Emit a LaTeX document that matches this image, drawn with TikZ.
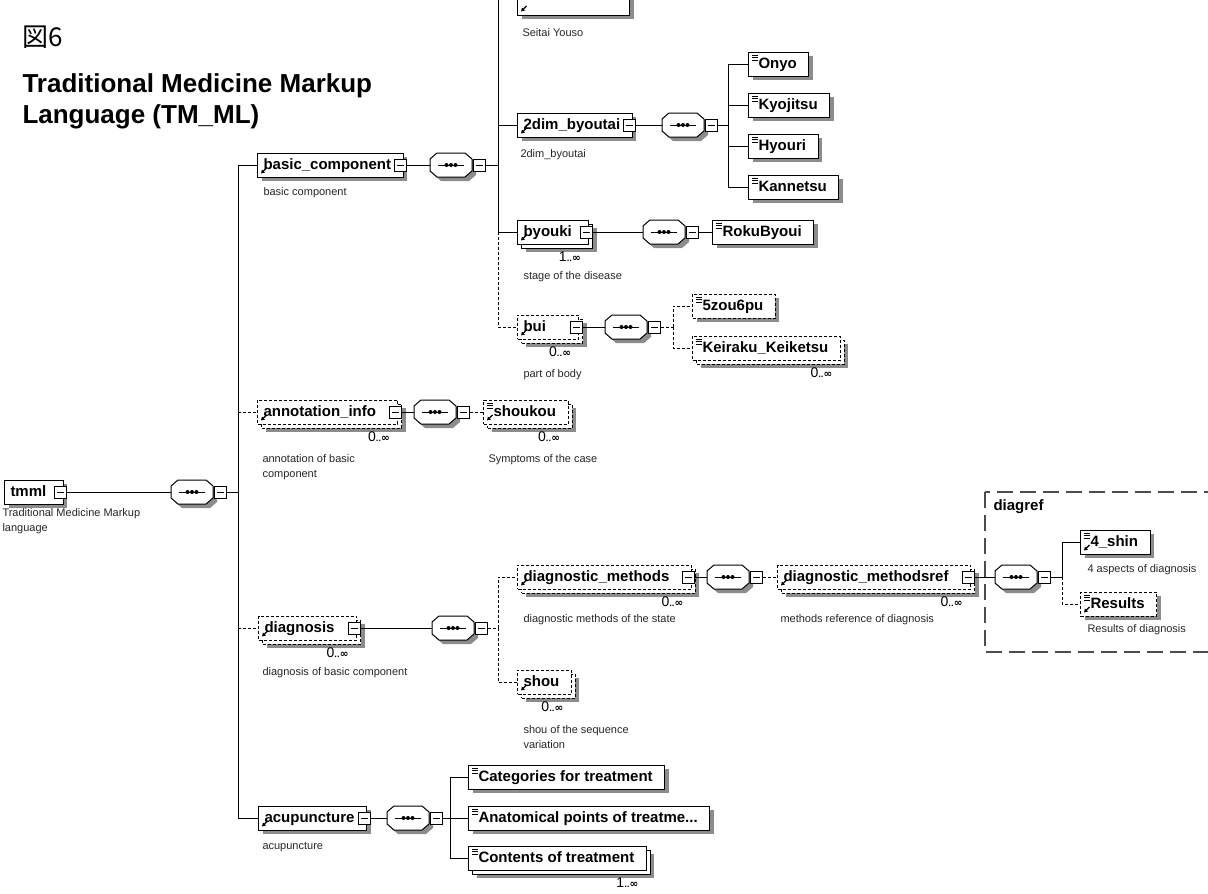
\documentclass[tikz,border=0pt]{standalone}
\usepackage{fontspec}
\setmainfont{Liberation Sans}
\newfontfamily\cjkfont{Noto Sans CJK JP}
\newfontfamily\dvfont{DejaVu Sans}
\usetikzlibrary{shadows,arrows.meta}

\newcommand\elfont{\bfseries\fontsize{15}{17}\selectfont}
\newcommand\dsfont{\fontsize{11}{14.5}\selectfont}
\newcommand\mlt[1]{{\fontsize{14}{14}\selectfont #1}{\dvfont\bfseries\fontsize{7}{7}\selectfont ..}{\dvfont\bfseries\fontsize{10.5}{10}\selectfont ∞}}
\newcommand\txtmark{\foreach \k in {3,5.5,8}{\draw[solid,line width=0.9pt] ([shift={(3,\k)}]path picture bounding box.north west) -- ++(6,0);}}
\newcommand\refmark{\draw[solid,line width=1.2pt,-{Triangle[length=3.5pt,width=4pt]}] ([shift={(9,-9)}]path picture bounding box.south west) -- ++(-5.5,5.5);}
\newcommand\seqpath{(-21,-6) -- (-14,-12) -- (14,-12) -- (21,-6) -- (21,6) -- (14,12) -- (-14,12) -- (-21,6) -- cycle}
\newcommand\seqat[2]{%
  \node[cmpn] (#1) at (#2) {};
  \begin{scope}[shift={(#1.center)}]
    \fill[black!45,shift={(4,4)}] \seqpath;
    \filldraw[fill=white] \seqpath;
    \draw (-13,0) -- (13,0);
    \foreach \d in {-4.5,0,4.5}{\fill (\d,0) circle (2);}
  \end{scope}
  \node[mn] (#1m) at ([xshift=7pt]#1.east) {};}

\tikzset{
  el/.style={draw,fill=white,font=\elfont,anchor=west,minimum height=24pt,inner xsep=6pt,inner ysep=0pt,
    text height=11pt,text depth=3pt,execute at end node={\hspace*{6pt}},
    drop shadow={shadow xshift=4pt,shadow yshift=-4pt,opacity=1,fill=black!45}},
  opt/.style={dash pattern=on 3pt off 2pt},
  many/.style={drop shadow={shadow xshift=8pt,shadow yshift=-8pt,opacity=1,fill=black!45},
    copy shadow={shadow xshift=4pt,shadow yshift=-4pt,opacity=1,fill=white,draw=black}},
  padr/.style={execute at end node={\hspace*{#1}}},
  txt/.style={execute at begin node={\hspace*{4pt}},path picture={\txtmark}},
  refi/.style={path picture={\refmark}},
  both/.style={execute at begin node={\hspace*{4pt}},path picture={\txtmark\refmark}},
  mn/.style={draw,solid,fill=white,minimum size=12pt,inner sep=0pt,
    path picture={\draw ([xshift=-3.5pt]path picture bounding box.center) -- ([xshift=3.5pt]path picture bounding box.center);}},
  cmpn/.style={rectangle,minimum width=42pt,minimum height=24pt,inner sep=0pt},
  ds/.style={font=\dsfont,text=black!85,anchor=west,inner sep=0pt,align=left},
  mul/.style={anchor=north east,inner sep=0pt},
  grp/.style={draw=black!70,dash pattern=on 16pt off 7pt,line width=1.2pt}
}

\begin{document}
\begin{tikzpicture}[x=1pt,y=-1pt,line width=1pt]
\useasboundingbox (0,0) rectangle (1208,894);
\clip (0,0) rectangle (1208,894);

\node[anchor=west,inner sep=0pt,font=\cjkfont\fontsize{26}{26}\selectfont] (fig) at (22,37) {図6};
\node[anchor=base west,inner sep=0pt,font=\bfseries\fontsize{26}{30}\selectfont] (title1) at (22,92) {Traditional Medicine Markup};
\node[anchor=base west,inner sep=0pt,font=\bfseries\fontsize{26}{30}\selectfont] (title2) at (22,123) {Language (TM\_ML)};

\node[el,padr=5pt] (tmml) at (4,492) {tmml};
\node[mn] (tmml-m) at ([xshift=-3pt]tmml.east) {};
\node[ds] (tmml-d) at (2,521) {Traditional Medicine Markup\\language};
\seqat{tmml-s}{192,492}
\coordinate (rj) at (238,492);
\draw (tmml-m) -- (tmml-s);
\draw (tmml-sm) -- (rj);

\node[el,refi] (bc) at (257,165) {basic\_component};
\node[mn] (bc-m) at ([xshift=-3pt]bc.east) {};
\node[ds] (bc-d) at (263,193) {basic component};
\node[el,opt,refi,many,padr=10pt] (an) at (257,412) {annotation\_info};
\node[mn] (an-m) at ([xshift=-3pt]an.east) {};
\node[mul] (an-n) at ([xshift=-8pt,yshift=-7pt]an.south east) {\mlt{0}};
\node[ds] (an-d) at (262,467) {annotation of basic\\component};
\node[el,opt,refi,many,padr=10pt] (dg) at (258,628) {diagnosis};
\node[mn] (dg-m) at ([xshift=-3pt]dg.east) {};
\node[mul] (dg-n) at ([xshift=-8pt,yshift=-7pt]dg.south east) {\mlt{0}};
\node[ds] (dg-d) at (262,673) {diagnosis of basic component};
\node[el,refi] (ac) at (258,818) {acupuncture};
\node[mn] (ac-m) at ([xshift=-3pt]ac.east) {};
\node[ds] (ac-d) at (262,847) {acupuncture};
\draw (rj) |- (bc.west);
\draw (rj) |- (ac.west);
\draw[opt] (rj |- an.west) -- (an.west);
\draw[opt] (rj |- dg.west) -- (dg.west);

\seqat{bc-s}{451,165}
\coordinate (bj) at (498,165);
\draw (bc-m) -- (bc-s);
\draw (bc-sm) -- (bj);
\node[el,refi,minimum height=46pt,minimum width=112pt] (sy) at (517,-8) {};
\node[ds] (sy-d) at (522,33) {Seitai Youso};
\node[el,refi] (db) at (517,125) {2dim\_byoutai};
\node[mn] (db-m) at ([xshift=-3pt]db.east) {};
\node[ds] (db-d) at (520,155) {2dim\_byoutai};
\node[el,refi,many,padr=5pt] (bk) at (517,232) {byouki};
\node[mn] (bk-m) at ([xshift=-3pt]bk.east) {};
\node[mul] (bk-n) at ([xshift=-8pt,yshift=-7pt]bk.south east) {\mlt{1}};
\node[ds] (bk-d) at (523,277) {stage of the disease};
\node[el,opt,refi,many,padr=21pt] (bu) at (517,327) {bui};
\node[mn] (bu-m) at ([xshift=-3pt]bu.east) {};
\node[mul] (bu-n) at ([xshift=-8pt,yshift=-7pt]bu.south east) {\mlt{0}};
\node[ds] (bu-d) at (523,375) {part of body};
\draw (bj) |- (sy.west);
\draw (bj) |- (db.west);
\draw (bj) |- (bk.west);
\draw[opt] (bj |- bk.west) |- (bu.west);

\seqat{db-s}{683,125}
\coordinate (dj) at (728,125);
\draw (db-m) -- (db-s);
\draw (db-sm) -- (dj);
\foreach \n/\y in {Onyo/64,Kyojitsu/105,Hyouri/146,Kannetsu/187}{
  \node[el,txt] (\n) at (748,\y) {\n};
  \draw (dj) |- (\n.west);
}

\seqat{bk-s}{664,232}
\node[el,txt] (rb) at (712,232) {RokuByoui};
\draw (bk-m) -- (bk-s);
\draw (bk-sm) -- (rb);

\seqat{bu-s}{626,327}
\coordinate (uj) at (673,327);
\node[el,opt,txt] (zr) at (692,306) {5zou6pu};
\node[el,opt,txt,many] (kk) at (692,348) {Keiraku\_Keiketsu};
\node[mul] (kk-n) at ([xshift=-8pt,yshift=-7pt]kk.south east) {\mlt{0}};
\draw (bu-m) -- (bu-s);
\draw[opt] (bu-sm) -- (uj);
\draw[opt] (uj) |- (zr.west);
\draw[opt] (uj) |- (kk.west);

\seqat{an-s}{435,412}
\node[el,opt,both,many] (sk) at (483,412) {shoukou};
\node[mul] (sk-n) at ([xshift=-8pt,yshift=-7pt]sk.south east) {\mlt{0}};
\node[ds] (sk-d) at (488,460) {Symptoms of the case};
\draw (an-m) -- (an-s);
\draw[opt] (an-sm) -- (sk);

\seqat{dg-s}{453,628}
\coordinate (gj) at (498,628);
\node[el,opt,refi,many,padr=10pt] (dm) at (517,577) {diagnostic\_methods};
\node[mn] (dm-m) at ([xshift=-3pt]dm.east) {};
\node[mul] (dm-n) at ([xshift=-8pt,yshift=-7pt]dm.south east) {\mlt{0}};
\node[ds] (dm-d) at (523,620) {diagnostic methods of the state};
\node[el,opt,refi,many] (sh) at (517,682) {shou};
\node[mul] (sh-n) at ([xshift=-8pt,yshift=-7pt]sh.south east) {\mlt{0}};
\node[ds] (sh-d) at (523,737) {shou of the sequence\\variation};
\draw (dg-m) -- (dg-s);
\draw[opt] (dg-sm) -- (gj);
\draw[opt] (gj) |- (dm.west);
\draw[opt] (gj) |- (sh.west);

\seqat{dm-s}{728,577}
\node[el,opt,refi,many,padr=10pt] (dr) at (777,577) {diagnostic\_methodsref};
\node[mn] (dr-m) at ([xshift=-3pt]dr.east) {};
\node[mul] (dr-n) at ([xshift=-8pt,yshift=-7pt]dr.south east) {\mlt{0}};
\node[ds] (dr-d) at (780,620) {methods reference of diagnosis};
\draw (dm-m) -- (dm-s);
\draw[opt] (dm-sm) -- (dr);

\draw[grp] (985,492) rectangle (1230,652);
\node[anchor=west,inner sep=0pt,font=\elfont] (grp-t) at (993,507) {diagref};
\seqat{dr-s}{1016,577}
\coordinate (hj) at (1062,577);
\node[el,both] (sn) at (1080,542) {4\_shin};
\node[ds] (sn-d) at (1087,570) {4 aspects of diagnosis};
\node[el,opt,both] (rs) at (1080,604) {Results};
\node[ds] (rs-d) at (1087,630) {Results of diagnosis};
\draw (dr-m) -- (dr-s);
\draw (dr-sm) -- (hj);
\draw (hj) |- (sn.west);
\draw[opt] (hj) |- (rs.west);

\seqat{ac-s}{408,818}
\coordinate (aj) at (450,818);
\node[el,txt] (ct) at (468,777) {Categories for treatment};
\node[el,txt] (ap) at (468,818) {Anatomical points of treatme...};
\node[el,txt,many] (co) at (468,858) {Contents of treatment};
\node[mul] (co-n) at ([xshift=-8pt,yshift=-7pt]co.south east) {\mlt{1}};
\draw (ac-m) -- (ac-s);
\draw (ac-sm) -- (aj);
\draw (aj) |- (ct.west);
\draw (aj) -- (ap.west);
\draw (aj) |- (co.west);
\end{tikzpicture}
\end{document}
